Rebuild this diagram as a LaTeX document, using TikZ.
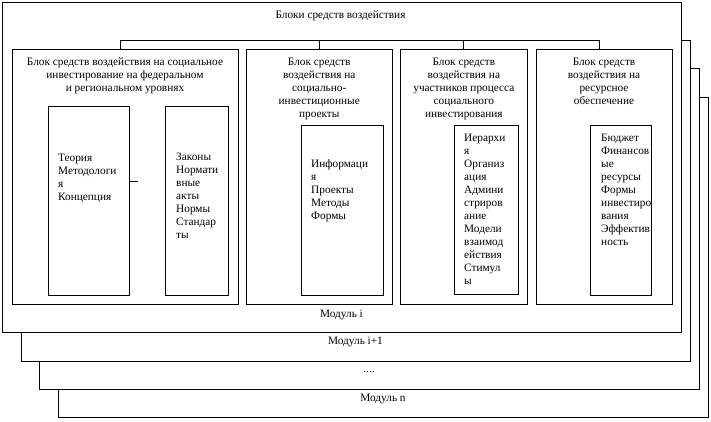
\documentclass[tikz,border=0pt]{standalone}
\usepackage{fontspec}
\setmainfont{Liberation Serif}
\begin{document}
\begin{tikzpicture}[x=1pt,y=-1pt,
  frame/.style={draw, fill=white, line width=1pt, rectangle, inner sep=0pt},
  txt/.style={inner sep=0pt, font=\fontsize{11.3}{13}\selectfont},
  ln/.style={line width=1pt}]
\useasboundingbox[fill=white] (0,0) rectangle (711,421);
% module frames (back to front)
\node[frame, minimum width=650pt, minimum height=320pt] (modn) at (383,257) {};
\node[txt, anchor=base] (lbln) at (383,401) {Модуль n};
\node[frame, minimum width=660pt, minimum height=321pt] (moddots) at (369,228.5) {};
\node[txt, anchor=base] (lbldots) at (369,372) {....};
\node[frame, minimum width=669pt, minimum height=321pt] (modi1) at (355.5,200.5) {};
\node[txt, anchor=base] (lbli1) at (355.5,344) {Модуль i+1};
\node[frame, minimum width=679pt, minimum height=330pt] (main) at (341.5,167) {};
\node[txt, anchor=base] (lbli) at (341.5,317) {Модуль i};
\node[txt, anchor=base] (title) at (340.5,18) {Блоки средств воздействия};
% blocks
\node[frame, minimum width=226pt, minimum height=255pt] (b1) at (125,176.5) {};
\node[frame, minimum width=145.5pt, minimum height=255pt] (b2) at (319.25,176.5) {};
\node[frame, minimum width=126.3pt, minimum height=255pt] (b3) at (463.85,176.5) {};
\node[frame, minimum width=136pt, minimum height=255pt] (b4) at (604,176.5) {};
% headings
\node[txt, anchor=north, align=center] (h1) at (125,58) {Блок средств воздействия на социальное\\инвестирование на федеральном\\и региональном уровнях};
\node[txt, anchor=north, align=center] (h2) at (319.25,58) {Блок средств\\воздействия на\\социально-\\инвестиционные\\проекты};
\node[txt, anchor=north, align=center] (h3) at (463.85,58) {Блок средств\\воздействия на\\участников процесса\\социального\\инвестирования};
\node[txt, anchor=north, align=center] (h4) at (604,58) {Блок средств\\воздействия на\\ресурсное\\обеспечение};
% inner boxes
\node[frame, minimum width=80.3pt, minimum height=189pt] (A) at (88.85,200.5) {};
\node[frame, minimum width=63pt, minimum height=189pt] (B) at (197.2,200.5) {};
\node[frame, minimum width=82pt, minimum height=170pt] (C) at (342,210) {};
\node[frame, minimum width=64pt, minimum height=169pt] (D) at (486.3,209.5) {};
\node[frame, minimum width=61.7pt, minimum height=170pt] (E) at (620.85,210) {};
% inner texts
\node[txt, anchor=north west, align=left] (tA) at (58,154) {Теория\\Методологи\\я\\Концепция};
\node[txt, anchor=north west, align=left] (tB) at (176,153) {Законы\\Нормати\\вные\\акты\\Нормы\\Стандар\\ты};
\node[txt, anchor=north west, align=left] (tC) at (311,159) {Информаци\\я\\Проекты\\Методы\\Формы};
\node[txt, anchor=north west, align=left] (tD) at (464,134) {Иерархи\\я\\Организ\\ация\\Админи\\стриров\\ание\\Модели\\взаимод\\ействия\\Стимул\\ы};
\node[txt, anchor=north west, align=left] (tE) at (601,134) {Бюджет\\Финансов\\ые\\ресурсы\\Формы\\инвестиро\\вания\\Эффектив\\ность};
% connectors
\coordinate (busL) at (120,40);
\coordinate (busR) at (599,40);
\draw[ln] (busL |- b1.north) -- (busL) -- (busR) -- (busR |- b4.north);
\draw[ln] (b2.north) -- (b2.north |- busL);
\draw[ln] (b3.north) -- (b3.north |- busL);
\coordinate (stub) at (138,181);
\draw[ln] (A.east |- stub) -- (stub);
\end{tikzpicture}
\end{document}
